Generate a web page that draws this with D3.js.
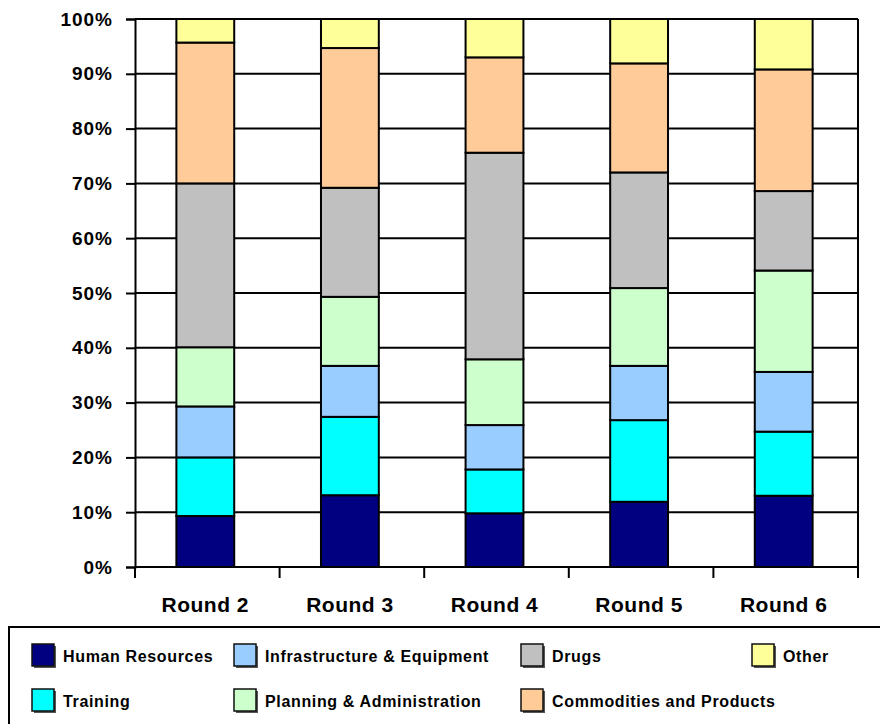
<!DOCTYPE html>
<html>
<head>
<meta charset="utf-8">
<script src="https://cdn.jsdelivr.net/npm/d3@7"></script>
<style>
  html, body { margin: 0; padding: 0; background: #fff; }
  svg { display: block; }
  text { font-family: "Liberation Sans", Arial, sans-serif; font-weight: bold; fill: #000; }
</style>
</head>
<body>
<svg id="chart" width="880" height="724"></svg>
<script>
// Spending share by category, per survey round (percent of total)
const categories = ["Round 2", "Round 3", "Round 4", "Round 5", "Round 6"];
const seriesNames = [
  "Human Resources", "Training", "Infrastructure & Equipment",
  "Planning & Administration", "Drugs", "Commodities and Products", "Other"
];
const humanResources = [9.3, 13.1, 9.8, 11.9, 13.0];
const training       = [10.7, 14.3, 8.0, 14.9, 11.7];
const infrastructure = [9.3, 9.3, 8.1, 9.9, 10.9];
const planning       = [10.8, 12.6, 12.0, 14.2, 18.5];
const drugs          = [29.9, 19.9, 37.7, 21.1, 14.5];
const commodities    = [25.7, 25.5, 17.4, 19.9, 22.2];
const other          = [4.3, 5.3, 7.0, 8.1, 9.2];
const seriesColors = ["#000080", "#00FFFF", "#99CCFF", "#CCFFCC", "#C0C0C0", "#FFCC99", "#FFFF99"];
const yTickValues = [0, 10, 20, 30, 40, 50, 60, 70, 80, 90, 100];

const seriesValues = [humanResources, training, infrastructure, planning, drugs, commodities, other];
const rows = categories.map((c, i) => {
  const r = { category: c };
  seriesNames.forEach((s, k) => { r[s] = seriesValues[k][i]; });
  return r;
});
const stacked = d3.stack().keys(seriesNames)(rows);

const svg = d3.select("#chart");
const plot = { left: 135, right: 858, top: 19, bottom: 567 };

const x = d3.scaleBand().domain(categories).range([plot.left - 2, plot.right - 2]).paddingInner(0.6).paddingOuter(0.3);
const xCat = d3.scaleBand().domain(categories).range([plot.left, plot.right]).padding(0);
const y = d3.scaleLinear().domain([0, 100]).range([plot.bottom, plot.top]);
const color = d3.scaleOrdinal().domain(seriesNames).range(seriesColors);

// Horizontal gridlines
svg.append("g").selectAll("line").data(yTickValues).join("line")
  .attr("x1", plot.left).attr("x2", plot.right)
  .attr("y1", d => y(d)).attr("y2", d => y(d))
  .attr("stroke", "#000").attr("stroke-width", 2);

// Right frame edge
svg.append("line")
  .attr("x1", plot.right).attr("x2", plot.right)
  .attr("y1", plot.top).attr("y2", plot.bottom)
  .attr("stroke", "#000").attr("stroke-width", 2);

// Stacked bars
svg.append("g").selectAll("g").data(stacked).join("g")
  .attr("fill", d => color(d.key))
  .selectAll("rect").data(d => d).join("rect")
  .attr("x", d => x(d.data.category))
  .attr("width", x.bandwidth())
  .attr("y", d => y(d[1]))
  .attr("height", d => y(d[0]) - y(d[1]))
  .attr("stroke", "#000").attr("stroke-width", 2);

// Y axis
const yAxis = svg.append("g")
  .attr("transform", `translate(${plot.left},0)`)
  .call(d3.axisLeft(y).tickValues(yTickValues).tickFormat(d => d + "%").tickSize(9).tickPadding(13));
yAxis.select(".domain").attr("stroke", "#000").attr("stroke-width", 2);
yAxis.selectAll(".tick line").attr("stroke", "#000").attr("stroke-width", 2);
yAxis.selectAll(".tick text")
  .style("font-family", '"Liberation Sans", Arial, sans-serif')
  .style("font-weight", "bold").style("font-size", "19px").style("letter-spacing", "1px")
  .attr("fill", "#333");

// X axis: ticks at category boundaries
const xAxis = svg.append("g").attr("transform", `translate(0,${plot.bottom})`);
xAxis.append("line").attr("x1", plot.left).attr("x2", plot.right)
  .attr("stroke", "#000").attr("stroke-width", 2);
const boundaries = categories.map(c => xCat(c)).concat([plot.right]);
xAxis.selectAll("line.tk").data(boundaries).join("line").attr("class", "tk")
  .attr("x1", d => d).attr("x2", d => d).attr("y1", 0).attr("y2", 11)
  .attr("stroke", "#000").attr("stroke-width", 2);
xAxis.selectAll("text").data(categories).join("text")
  .attr("x", d => xCat(d) + xCat.bandwidth() / 2 - 2)
  .attr("y", 45)
  .attr("text-anchor", "middle")
  .style("font-size", "21px").style("letter-spacing", "0.5px")
  .attr("fill", "#333")
  .text(d => d);

// Legend
const legend = svg.append("g");
legend.append("rect")
  .attr("x", 9).attr("y", 627).attr("width", 880).attr("height", 110)
  .attr("fill", "#fff").attr("stroke", "#000").attr("stroke-width", 2);
const colX = [32, 234, 521, 752];
const rowY = [644, 689];
const items = legend.selectAll("g.item").data(seriesNames).join("g").attr("class", "item")
  .attr("transform", (d, i) => `translate(${colX[Math.floor(i / 2)]},${rowY[i % 2]})`);
items.append("rect")
  .attr("x", 2).attr("y", 2).attr("width", 22).attr("height", 22)
  .attr("fill", "#555");
items.append("rect")
  .attr("x", 0).attr("y", 0).attr("width", 22).attr("height", 22)
  .attr("fill", d => color(d)).attr("stroke", "#111").attr("stroke-width", 1.5);
items.append("text")
  .attr("x", 31).attr("y", 18)
  .style("font-size", "16px").style("letter-spacing", "0.65px")
  .attr("fill", "#111")
  .text(d => d);
</script>
</body>
</html>
